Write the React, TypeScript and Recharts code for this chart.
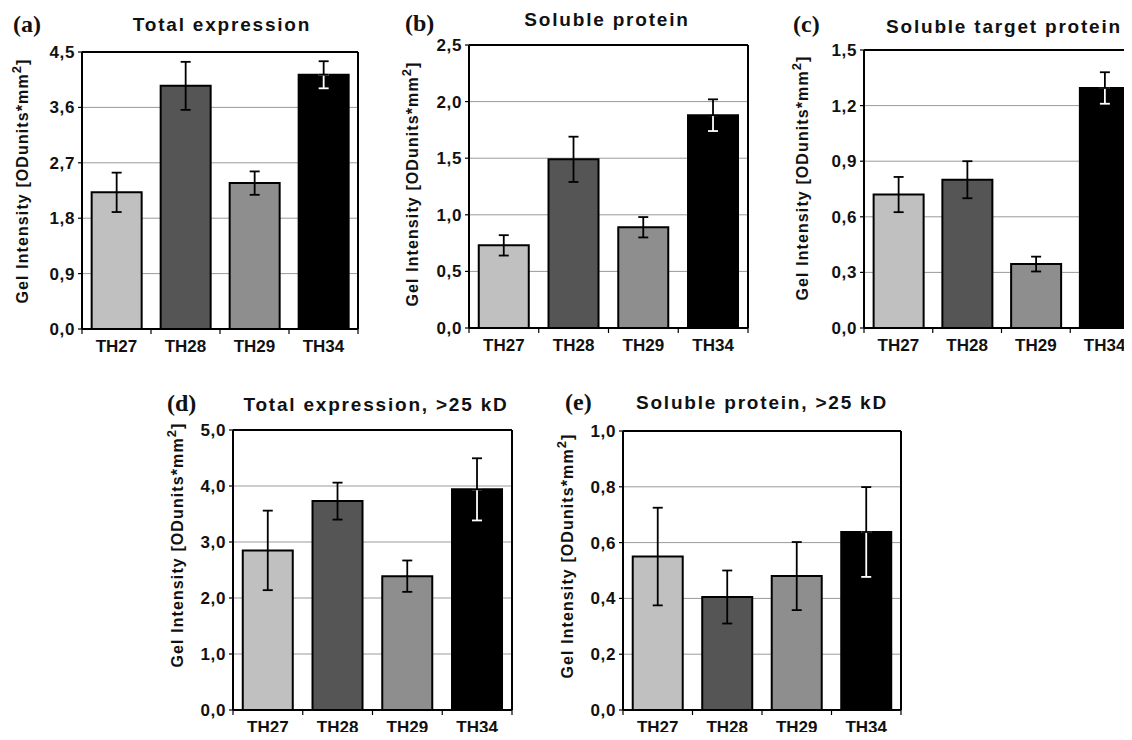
import React from "react";
import { BarChart, Bar, XAxis, YAxis, CartesianGrid, ErrorBar, Cell, ReferenceLine } from "recharts";

const categories = ["TH27", "TH28", "TH29", "TH34"];
const barColors = ["#c0c0c0", "#555555", "#8e8e8e", "#000000"];

// (a) Total expression
const totalExpression = [2.22, 3.95, 2.37, 4.13];
const totalExpressionErr = [0.32, 0.39, 0.19, 0.22];
const totalExpressionTicks = [0, 0.9, 1.8, 2.7, 3.6, 4.5];

// (b) Soluble protein
const solubleProtein = [0.73, 1.49, 0.89, 1.88];
const solubleProteinErr = [0.09, 0.2, 0.09, 0.14];
const solubleProteinTicks = [0, 0.5, 1.0, 1.5, 2.0, 2.5];

// (c) Soluble target protein
const solubleTarget = [0.72, 0.8, 0.345, 1.295];
const solubleTargetErr = [0.095, 0.1, 0.04, 0.085];
const solubleTargetTicks = [0, 0.3, 0.6, 0.9, 1.2, 1.5];

// (d) Total expression, >25 kD
const total25 = [2.85, 3.73, 2.39, 3.94];
const total25Err = [0.71, 0.33, 0.28, 0.555];
const total25Ticks = [0, 1, 2, 3, 4, 5];

// (e) Soluble protein, >25 kD
const soluble25 = [0.55, 0.405, 0.48, 0.638];
const soluble25Err = [0.175, 0.095, 0.122, 0.161];
const soluble25Ticks = [0, 0.2, 0.4, 0.6, 0.8, 1.0];

const SANS = "'Liberation Sans', Arial, sans-serif";
const SERIF = "'Liberation Serif', 'Times New Roman', serif";

type Panel = {
  letter: string;
  title: string;
  values: number[];
  errors: number[];
  ticks: number[];
  plot: [number, number, number, number]; // x1, y1, x2, y2 of the plot frame
  yLabel: [number, number];
  letterPos: [number, number];
  titlePos: [number, number];
};

const panels: Panel[] = [
  {
    letter: "(a)", title: "Total expression",
    values: totalExpression, errors: totalExpressionErr, ticks: totalExpressionTicks,
    plot: [82, 52, 358, 329], yLabel: [22, 181], letterPos: [13, 24], titlePos: [222, 25],
  },
  {
    letter: "(b)", title: "Soluble protein",
    values: solubleProtein, errors: solubleProteinErr, ticks: solubleProteinTicks,
    plot: [469, 45, 748, 328], yLabel: [412, 184], letterPos: [405, 23], titlePos: [607, 20],
  },
  {
    letter: "(c)", title: "Soluble target protein",
    values: solubleTarget, errors: solubleTargetErr, ticks: solubleTargetTicks,
    plot: [864, 50, 1139, 328], yLabel: [802, 178], letterPos: [793, 24], titlePos: [1004, 27],
  },
  {
    letter: "(d)", title: "Total expression, >25 kD",
    values: total25, errors: total25Err, ticks: total25Ticks,
    plot: [233, 430, 512, 710], yLabel: [177, 545], letterPos: [167, 403], titlePos: [376, 405],
  },
  {
    letter: "(e)", title: "Soluble protein, >25 kD",
    values: soluble25, errors: soluble25Err, ticks: soluble25Ticks,
    plot: [623, 431, 901, 710], yLabel: [567, 556], letterPos: [565, 402], titlePos: [762, 403],
  },
];

const Y_AXIS_W = 80;
const fmt = (v: number) => v.toFixed(1).replace(".", ",");

function PanelChart({ p }: { p: Panel }) {
  const [x1, y1, x2, y2] = p.plot;
  const left = x1 - Y_AXIS_W;
  const top = y1 - 10;
  const width = x2 - left + 10;
  const height = y2 - top + 40;
  const axisY = y2 - top;
  const catW = (x2 - x1) / categories.length;
  // on the black bar the part of the error bar inside the bar shows in white
  const data = categories.map((name, i) => {
    const dark = barColors[i] === "#000000";
    return {
      name,
      value: p.values[i],
      errOuter: dark ? [0, p.errors[i]] : p.errors[i],
      errInner: dark ? [p.errors[i], 0] : undefined,
    };
  });
  const max = p.ticks[p.ticks.length - 1];
  const lx = p.yLabel[0] - left;
  const ly = p.yLabel[1] - top;

  const renderTick = (props: any) => {
    const { x, payload } = props;
    const last = categories.indexOf(payload.value) === categories.length - 1;
    return (
      <g>
        <line x1={x - catW / 2} x2={x - catW / 2} y1={axisY} y2={axisY + 5} stroke="#000" strokeWidth={1.2} />
        {last && <line x1={x + catW / 2} x2={x + catW / 2} y1={axisY} y2={axisY + 5} stroke="#000" strokeWidth={1.2} />}
        <text x={x} y={axisY + 11} dy="0.71em" textAnchor="middle" fontFamily={SANS} fontWeight="bold" fontSize={17} fill="#111">
          {payload.value}
        </text>
      </g>
    );
  };

  return (
    <div style={{ position: "absolute", left, top }}>
      <BarChart width={width} height={height} data={data} margin={{ top: 10, right: 10, left: 0, bottom: 10 }} barCategoryGap="14%">
        <CartesianGrid vertical={false} stroke="#9a9a9a" strokeWidth={1} />
        <XAxis dataKey="name" height={30} axisLine={{ stroke: "#000", strokeWidth: 2 }} tickLine={false} tick={renderTick} interval={0} />
        <YAxis
          width={Y_AXIS_W}
          domain={[0, max]}
          ticks={p.ticks}
          interval={0}
          tickFormatter={fmt}
          tickSize={4}
          tickMargin={3}
          axisLine={{ stroke: "#000", strokeWidth: 2 }}
          tickLine={{ stroke: "#000", strokeWidth: 1.2 }}
          tick={{ fontFamily: SANS, fontWeight: "bold", fontSize: 17, fill: "#111", letterSpacing: 0.6 }}
          label={{
            content: () => (
              <text
                x={lx}
                y={ly}
                transform={`rotate(-90, ${lx}, ${ly})`}
                textAnchor="middle"
                dominantBaseline="central"
                fontFamily={SANS}
                fontWeight="bold"
                fontSize={16}
                letterSpacing={1.1}
                fill="#111"
              >
                Gel Intensity [ODunits*mm
                <tspan dy={-6} fontSize={13}>2</tspan>
                <tspan dy={6}>]</tspan>
              </text>
            ),
          }}
        />
        <Bar dataKey="value" isAnimationActive={false}>
          {data.map((d, i) => (
            <Cell key={d.name} fill={barColors[i]} stroke="#000" strokeWidth={2} />
          ))}
          <ErrorBar dataKey="errInner" width={5} stroke="#fff" strokeWidth={1.8} />
          <ErrorBar dataKey="errOuter" width={5} stroke="#000" strokeWidth={1.8} />
        </Bar>
        {/* plot frame: top and right edges */}
        <ReferenceLine y={max} stroke="#000" strokeWidth={2} />
        <ReferenceLine x={categories[categories.length - 1]} position="end" stroke="#000" strokeWidth={2} />
      </BarChart>
    </div>
  );
}

export default function App() {
  return (
    <div style={{ position: "relative", width: 1132, height: 740, margin: -8, overflow: "hidden", background: "#fff" }}>
      {panels.map((p) => (
        <PanelChart key={p.letter} p={p} />
      ))}
      {panels.map((p) => (
        <React.Fragment key={p.letter + "t"}>
          <div
            style={{
              position: "absolute", left: p.letterPos[0], top: p.letterPos[1], transform: "translateY(-50%)",
              fontFamily: SERIF, fontWeight: "bold", fontSize: 24, color: "#111", whiteSpace: "nowrap",
            }}
          >
            {p.letter}
          </div>
          <div
            style={{
              position: "absolute", left: p.titlePos[0], top: p.titlePos[1], transform: "translate(-50%, -50%)",
              fontFamily: SANS, fontWeight: "bold", fontSize: 19, letterSpacing: 1.8, color: "#111", whiteSpace: "nowrap",
            }}
          >
            {p.title}
          </div>
        </React.Fragment>
      ))}
    </div>
  );
}
